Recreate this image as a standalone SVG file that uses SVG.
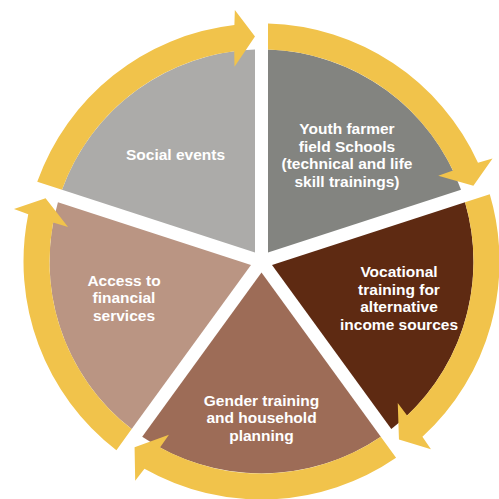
<svg xmlns="http://www.w3.org/2000/svg" width="499" height="499" viewBox="0 0 499 499">
<style>
.lbl{font-family:"Liberation Sans",Arial,sans-serif;font-weight:bold;font-size:15.5px;fill:#ffffff;text-anchor:middle}
.arrow{fill:#f1c34b}
</style>
<defs>
<path id="wedge" d="M268,252.55 L268,49.6 A212,212 0 0 1 461.02,189.84 Z"/>
<path id="arc" d="M268,23.59 A238,238 0 0 1 478,162.65 L492.54,158.4 L473.38,185.81 L438.26,175.67 L453.02,170.6 A212,212 0 0 0 268,49.6 Z"/>
</defs>
<rect width="499" height="499" fill="#ffffff"/>
<g id="social">
<use href="#wedge" transform="rotate(288 261.5 261.5)" fill="#acaba9"/>
<text class="lbl" x="175.5" y="160">Social events</text>
</g>
<g id="youth">
<use href="#wedge" fill="#838480"/>
<text class="lbl" x="347" y="134">Youth farmer</text>
<text class="lbl" x="347" y="151.5">field Schools</text>
<text class="lbl" x="347" y="169">(technical and life</text>
<text class="lbl" x="347" y="186.5">skill trainings)</text>
</g>
<g id="vocational">
<use href="#wedge" transform="rotate(72 261.5 261.5)" fill="#5e2a12"/>
<text class="lbl" x="399" y="277">Vocational</text>
<text class="lbl" x="399" y="294.5">training for</text>
<text class="lbl" x="399" y="312">alternative</text>
<text class="lbl" x="399" y="329.5">income sources</text>
</g>
<g id="gender">
<use href="#wedge" transform="rotate(144 261.5 261.5)" fill="#9d6c57"/>
<text class="lbl" x="261.5" y="405.5">Gender training</text>
<text class="lbl" x="261.5" y="423">and household</text>
<text class="lbl" x="261.5" y="440.5">planning</text>
</g>
<g id="access">
<use href="#wedge" transform="rotate(216 261.5 261.5)" fill="#ba9583"/>
<text class="lbl" x="124" y="285.5">Access to</text>
<text class="lbl" x="124" y="303">financial</text>
<text class="lbl" x="124" y="320.5">services</text>
</g>
<g id="connectors" class="arrow">
<use href="#arc" transform="rotate(288 261.5 261.5)"/>
<use href="#arc"/>
<use href="#arc" transform="rotate(72 261.5 261.5)"/>
<use href="#arc" transform="rotate(144 261.5 261.5)"/>
<use href="#arc" transform="rotate(216 261.5 261.5)"/>
</g>
</svg>
